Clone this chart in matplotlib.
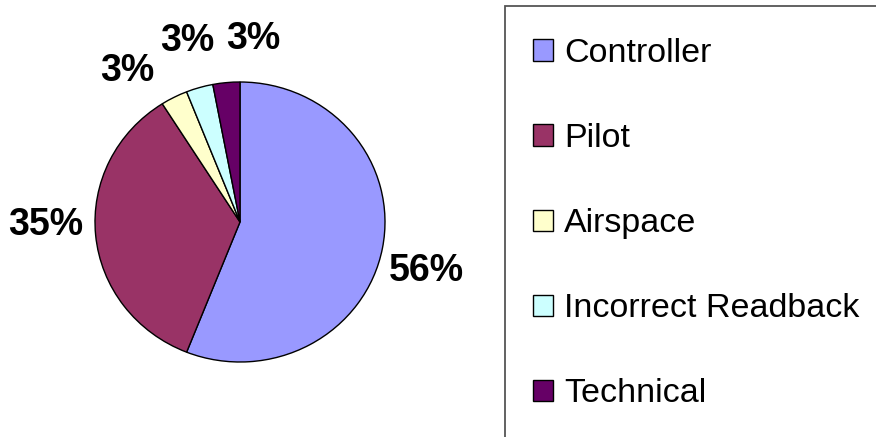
import matplotlib
matplotlib.use('Agg')
import matplotlib.pyplot as plt
from matplotlib.patches import Rectangle
import numpy as np

plt.rcParams['font.family'] = ['Liberation Sans', 'DejaVu Sans']

# data
categories = ['Controller', 'Pilot', 'Airspace', 'Incorrect Readback', 'Technical']
shares = [56, 35, 3, 3, 3]
colors = ['#9999FF', '#993366', '#FFFFCC', '#CCFFFF', '#660066']

W, H = 876, 437
fig = plt.figure(figsize=(W / 100, H / 100), dpi=100)

# pie axes (slightly wider than tall, like the Excel original)
cx, cy, rx, ry = 240, 222, 145, 140
ax = fig.add_axes([(cx - rx) / W, (H - cy - ry) / H, 2 * rx / W, 2 * ry / H])
wedges, texts, autotexts = ax.pie(
    shares, colors=colors, startangle=90, counterclock=False,
    autopct='%1.0f%%', pctdistance=1.33,
    wedgeprops=dict(edgecolor='black', linewidth=1.0),
    textprops=dict(fontsize=27, fontweight='bold', color='black'))
ax.set_xlim(-1, 1)
ax.set_ylim(-1, 1)
ax.set_aspect('auto')

# nudge labels off the mid-angle the way Excel spreads them
shift = [-4.3, -4.5, 8.8, -0.4, -9.4]
dist = [1.33, 1.34, 1.33, 1.34, 1.31]
for w, t, d, r in zip(wedges, autotexts, shift, dist):
    ang = np.deg2rad((w.theta1 + w.theta2) / 2 + d)
    t.set_position((r * np.cos(ang), r * np.sin(ang)))

# legend frame running off the right/bottom edge
fig.patches.append(Rectangle((505 / W, -0.05), 1.0, (H - 6) / H + 0.05,
                             transform=fig.transFigure, fill=False,
                             edgecolor='#555555', linewidth=1.3))

leg = fig.legend(wedges, categories, loc='upper left',
                 bbox_to_anchor=(533 / W, 1 - 38 / H),
                 frameon=False, fontsize=24.5,
                 handlelength=0.59, handleheight=0.59,
                 handletextpad=0.33, labelspacing=1.59,
                 borderpad=0, borderaxespad=0)
for h in leg.legend_handles:
    h.set_edgecolor('black')
    h.set_linewidth(1.0)

fig.savefig('out.png', dpi=100)
